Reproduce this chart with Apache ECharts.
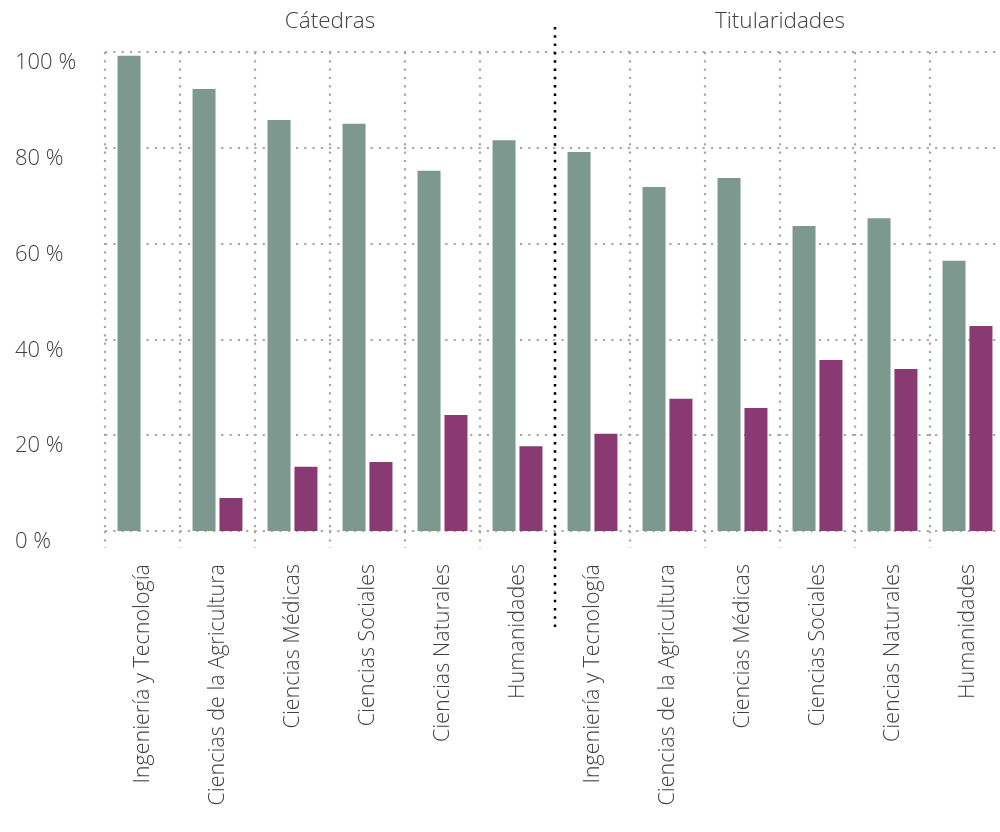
<!DOCTYPE html>
<html>
<head>
<meta charset="utf-8">
<script src="https://cdn.jsdelivr.net/npm/echarts@6/dist/echarts.min.js"></script>
<style>
html,body{margin:0;padding:0;background:#fff;}
#c{width:1000px;height:832px;}
</style>
</head>
<body>
<div id="c"></div>
<script>
// ---- data ----
var groups = ['Cátedras', 'Titularidades'];
var categories = [
  'Ingeniería y Tecnología', 'Ciencias de la Agricultura', 'Ciencias Médicas',
  'Ciencias Sociales', 'Ciencias Naturales', 'Humanidades',
  'Ingeniería y Tecnología', 'Ciencias de la Agricultura', 'Ciencias Médicas',
  'Ciencias Sociales', 'Ciencias Naturales', 'Humanidades'
];
var greenValues = [99.2, 92.3, 85.8, 85.0, 75.2, 81.6, 79.1, 71.8, 73.7, 63.7, 65.3, 56.4];
var purpleValues = [0, 6.9, 13.4, 14.4, 24.2, 17.7, 20.3, 27.6, 25.7, 35.7, 33.8, 42.8];
var yTicks = [0, 20, 40, 60, 80, 100];

// ---- styles ----
var FONT = '"Open Sans", "Noto Sans", sans-serif';
var TEXT = '#404040';
var GRID = '#ada69e';
var dotted = {color: GRID, width: 2.2, type: [2.2, 6.1]};

var chart = echarts.init(document.getElementById('c'), null, {renderer: 'canvas'});
var option = {
  animation: false,
  backgroundColor: '#ffffff',
  textStyle: {fontFamily: FONT},
  grid: {left: 105, right: -5, top: 52, bottom: 301, containLabel: false, outerBoundsMode: 'none'},
  xAxis: {
    type: 'category',
    data: categories,
    axisLine: {show: false},
    axisTick: {show: true, length: 17, lineStyle: dotted},
    splitLine: {show: true, lineStyle: dotted},
    axisLabel: {
      rotate: 90, margin: 33, fontSize: 21.5, fontWeight: 300,
      color: TEXT, fontFamily: FONT, interval: 0
    }
  },
  yAxis: {
    type: 'value',
    min: yTicks[0], max: yTicks[yTicks.length - 1], interval: 20,
    axisLine: {show: false},
    axisTick: {show: false},
    splitLine: {show: true, lineStyle: dotted},
    axisLabel: {
      formatter: '{value} %', align: 'left', margin: 90, verticalAlign: 'top',
      fontSize: 22, fontWeight: 300, color: TEXT, fontFamily: FONT
    }
  },
  series: [
    {type: 'bar', data: greenValues, barWidth: 23, barGap: '17%',
     itemStyle: {color: '#7d998f'}},
    {type: 'bar', data: purpleValues, barWidth: 23, barGap: '17%',
     itemStyle: {color: '#893a72'}}
  ]
};
chart.setOption(option);

// separator + group titles placed through the axis scale
var half = categories.length / 2;
var c0 = chart.convertToPixel({xAxisIndex: 0}, 0);
var c1 = chart.convertToPixel({xAxisIndex: 0}, 1);
var step = c1 - c0;
var sepX = chart.convertToPixel({xAxisIndex: 0}, half - 1) + step / 2;
var leftCenter = (chart.convertToPixel({xAxisIndex: 0}, 0) + chart.convertToPixel({xAxisIndex: 0}, half - 1)) / 2;
var rightCenter = (chart.convertToPixel({xAxisIndex: 0}, half) + chart.convertToPixel({xAxisIndex: 0}, categories.length - 1)) / 2;

chart.setOption({
  graphic: [
    {type: 'line', silent: true, z: 10,
     shape: {x1: sepX, y1: 27, x2: sepX, y2: 630},
     style: {stroke: '#000', lineWidth: 2.5, lineDash: [2.5, 5.8]}},
    {type: 'text', x: leftCenter, y: 22,
     style: {text: groups[0], fontSize: 22.5, fontWeight: 300, fontFamily: FONT, fill: TEXT, align: 'center', verticalAlign: 'middle'}},
    {type: 'text', x: rightCenter, y: 22,
     style: {text: groups[1], fontSize: 22.5, fontWeight: 300, fontFamily: FONT, fill: TEXT, align: 'center', verticalAlign: 'middle'}}
  ]
});
</script>
</body>
</html>
